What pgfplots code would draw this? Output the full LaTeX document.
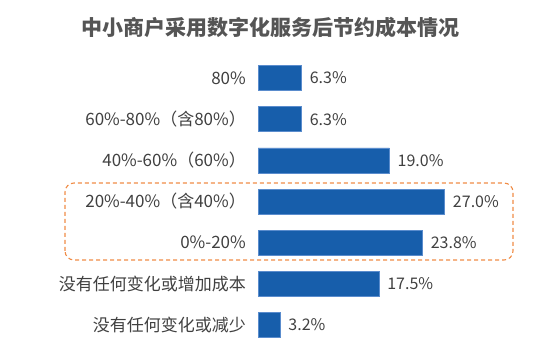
\documentclass[border=0pt]{standalone}
\usepackage{fontspec}
\setmainfont{Noto Sans CJK SC}
\usepackage{pgfplots}
\pgfplotsset{compat=1.18}
\definecolor{barblue}{RGB}{23,94,171}
\definecolor{baredge}{RGB}{90,140,205}
\definecolor{txt}{RGB}{64,64,64}
\definecolor{ttl}{RGB}{85,85,85}
\definecolor{dashorange}{RGB}{240,140,70}
\begin{document}
\begin{tikzpicture}
\path[use as bounding box] (0,0) rectangle (553pt,353pt);
\node[font=\fontsize{21}{24}\selectfont\bfseries, text=ttl, inner sep=0pt] at (270.5pt,325pt) {中小商户采用数字化服务后节约成本情况};
\begin{axis}[
  at={(258pt,7.5pt)}, anchor=south west,
  scale only axis, width=242pt, height=288pt,
  xmin=0, xmax=35, ymin=-0.5, ymax=6.5,
  y dir=reverse,
  xbar, bar width=25pt, bar shift=0pt,
  axis line style={draw=none},
  xtick=\empty,
  ytick={0,1,2,3,4,5,6},
  yticklabels={80\%, 60\%-80\%（含80\%）, 40\%-60\%（60\%）, 20\%-40\%（含40\%）, 0\%-20\%, 没有任何变化或增加成本, 没有任何变化或减少},
  major tick length=0pt,
  yticklabel style={font=\fontsize{17}{20}\selectfont, text=txt, inner sep=0pt, xshift=-12pt},
  /pgf/number format/assume math mode=true,
  nodes near coords={\pgfmathprintnumber[fixed,fixed zerofill,precision=1]{\pgfplotspointmeta}\%},
  nodes near coords style={font=\fontsize{16}{19}\selectfont, text=txt, inner sep=0pt, xshift=8pt, anchor=west},
  clip=false,
]
\addplot[fill=barblue, draw=baredge, line width=0.6pt] coordinates {
  (6.3,0) (6.3,1) (19.0,2) (27.0,3) (23.8,4) (17.5,5) (3.2,6)
};
\end{axis}
\draw[dashorange, line width=1.1pt, dash pattern=on 4pt off 3pt, rounded corners=9pt] (65pt,93pt) rectangle (513pt,170pt);
\end{tikzpicture}
\end{document}
